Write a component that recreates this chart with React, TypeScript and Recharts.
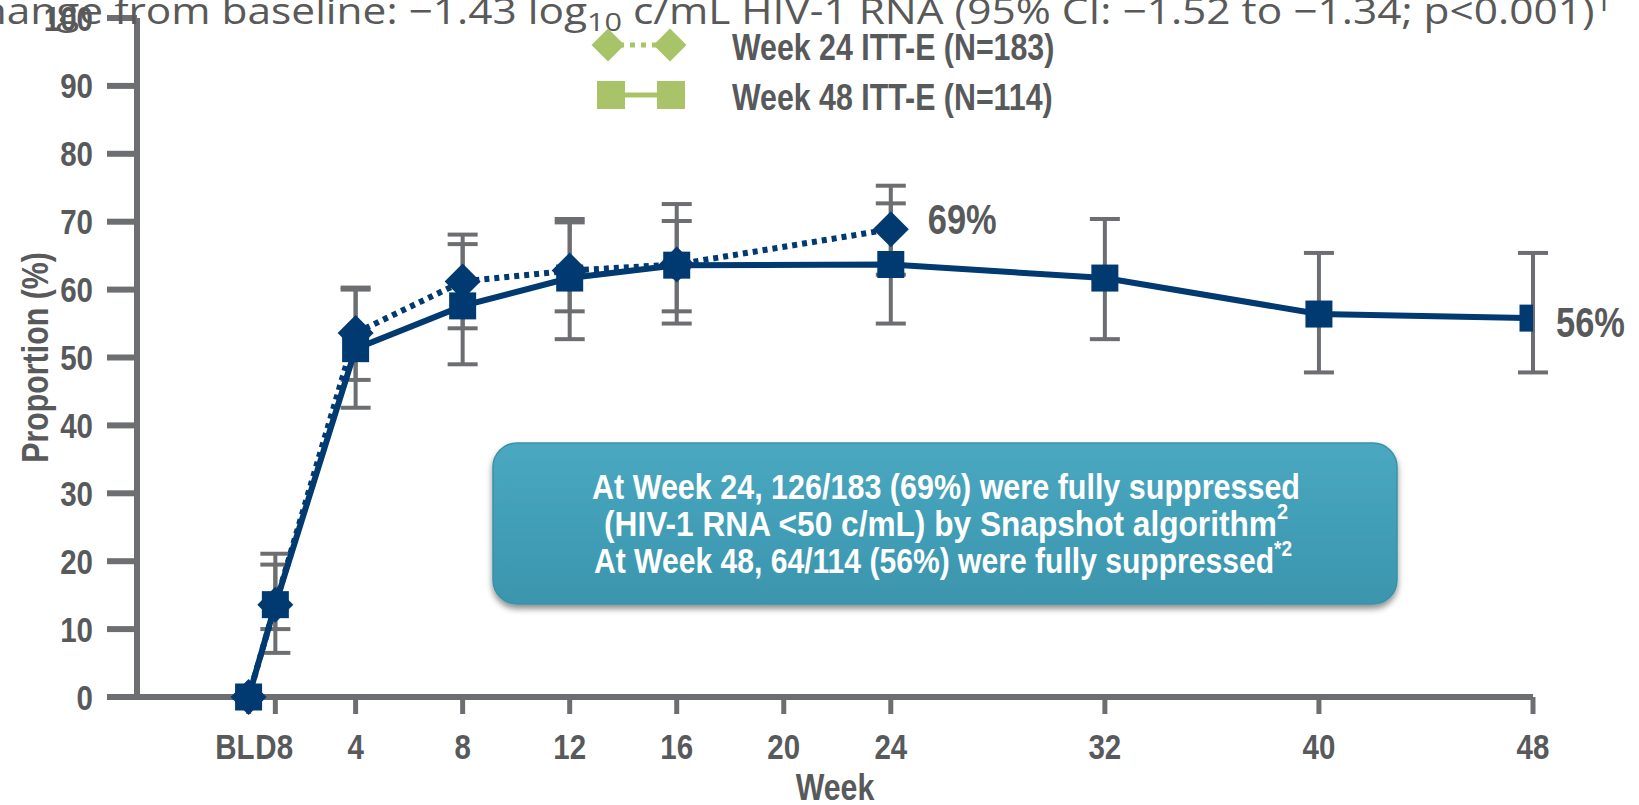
import React from 'react';
import { LineChart, Line, XAxis, YAxis, ErrorBar, LabelList } from 'recharts';

const BOLD_FONT = "'Liberation Sans', Arial, sans-serif";
const SX = 0.82; // Arial -> Arial Narrow width ratio
const NAVY = '#003A70';
const AXIS_GREY = '#6D6E71';
const TEXT_GREY = '#58595B';
const GREEN = '#A9C468';

// Week 24 ITT-E (N=183)
const week24Weeks = [0, 1, 4, 8, 12, 16, 24];
const week24Values = [0, 13.6, 53.6, 61.2, 62.8, 63.7, 68.9];
const week24Lower = [0, 10.0, 46.7, 54.3, 56.8, 56.8, 62.2];
const week24Upper = [0, 19.5, 60.3, 68.1, 69.9, 70.1, 75.3];

// Week 48 ITT-E (N=114)
const week48Weeks = [0, 1, 4, 8, 12, 16, 24, 32, 40, 48];
const week48Values = [0, 13.6, 51.3, 57.6, 61.7, 63.6, 63.7, 61.7, 56.4, 55.8];
const week48Lower = [0, 6.5, 42.6, 49.0, 52.7, 55.0, 55.0, 52.7, 47.8, 47.8];
const week48Upper = [0, 21.1, 60.0, 66.7, 70.4, 72.6, 72.7, 70.4, 65.4, 65.4];

const xTicks = [0, 1, 4, 8, 12, 16, 20, 24, 32, 40, 48];
const xTickLabels = ['BL', 'D8', '4', '8', '12', '16', '20', '24', '32', '40', '48'];
const yTicks = [0, 10, 20, 30, 40, 50, 60, 70, 80, 90, 100];

const seriesNames = ['Week 24 ITT-E (N=183)', 'Week 48 ITT-E (N=114)'];
const boxLines = [
  'At Week 24, 126/183 (69%) were fully suppressed',
  '(HIV-1 RNA <50 c/mL) by Snapshot algorithm',
  'At Week 48, 64/114 (56%) were fully suppressed',
];

const build = (weeks: number[], vals: number[], lo: number[], hi: number[]) =>
  weeks.map((w, i) => ({ week: w, value: vals[i], err: [vals[i] - lo[i], hi[i] - vals[i]] }));

const week24Data = build(week24Weeks, week24Values, week24Lower, week24Upper);
const week48Data = build(week48Weeks, week48Values, week48Lower, week48Upper);

const NText = (p: { x: number; y: number; anchor?: any; size: number; fill: string; rotate?: number; children: any }) => (
  <text
    transform={`translate(${p.x},${p.y})${p.rotate ? ` rotate(${p.rotate})` : ''} scale(${SX},1)`}
    x={0} y={0} textAnchor={p.anchor || 'start'} dominantBaseline="central"
    fontFamily={BOLD_FONT} fontWeight={700} fontSize={p.size} fill={p.fill}>
    {p.children}
  </text>
);

const diamondDot = (props: any) => {
  const { cx, cy, index } = props;
  if (cx == null || cy == null) return <g key={`dd${index}`} />;
  const r = 18;
  return (
    <path key={`dd${index}`} d={`M${cx},${cy - r}L${cx + r},${cy}L${cx},${cy + r}L${cx - r},${cy}Z`} fill={NAVY} />
  );
};

const squareDot = (props: any) => {
  const { cx, cy, index } = props;
  if (cx == null || cy == null) return <g key={`sd${index}`} />;
  const h = 13.5;
  return <rect key={`sd${index}`} x={cx - h} y={cy - h} width={2 * h} height={2 * h} fill={NAVY} />;
};

const renderXTick = (props: any) => {
  const { x, y, payload } = props;
  const v = payload.value;
  const idx = xTicks.indexOf(v);
  const label = idx >= 0 ? xTickLabels[idx] : String(v);
  let anchor: any = 'middle';
  let dx = 0;
  if (v === 0) { anchor = 'end'; dx = 6; }
  if (v === 1) { anchor = 'start'; dx = -20; }
  return <NText x={x + dx} y={y + 32} anchor={anchor} size={36} fill={TEXT_GREY}>{label}</NText>;
};

const renderYTick = (props: any) => {
  const { x, y, payload } = props;
  return <NText x={x} y={y} anchor="end" size={36} fill={TEXT_GREY}>{payload.value}</NText>;
};

const renderYLabel = (props: any) => {
  const vb = props.viewBox || { x: 0, y: 18, width: 137, height: 679 };
  return (
    <NText x={vb.x + 35} y={vb.y + vb.height / 2} anchor="middle" rotate={-90} size={37} fill={TEXT_GREY}>Proportion (%)</NText>
  );
};

const renderXLabel = (props: any) => {
  const vb = props.viewBox || { x: 137, y: 697, width: 1396, height: 60 };
  return <NText x={vb.x + vb.width / 2} y={vb.y + 90} anchor="middle" size={37} fill={TEXT_GREY}>Week</NText>;
};

const makeEndLabel = (lastIndex: number, dx: number, dy: number) => (props: any) => {
  const { x, y, value, index } = props;
  if (index !== lastIndex) return null;
  return <NText x={x + dx} y={y + dy} size={42} fill={TEXT_GREY}>{`${Math.round(value)}%`}</NText>;
};

export default function App() {
  return (
    <div style={{ position: 'relative', width: 1639, height: 805, background: '#fff', overflow: 'hidden' }}>
      <style>{'body{margin:0;}'}</style>
      <LineChart width={1639} height={805} margin={{ top: 18, right: 106, bottom: 48, left: 0 }}>
        <XAxis type="number" dataKey="week" domain={[-4.17, 48]} allowDataOverflow ticks={xTicks} interval={0}
          height={60} tickSize={17} tickMargin={0}
          axisLine={{ stroke: AXIS_GREY, strokeWidth: 6 }} tickLine={{ stroke: AXIS_GREY, strokeWidth: 5 }}
          tick={renderXTick} label={renderXLabel} />
        <YAxis type="number" domain={[0, 100]} ticks={yTicks} interval={0} width={137} tickSize={30} tickMargin={14}
          axisLine={{ stroke: AXIS_GREY, strokeWidth: 6 }} tickLine={{ stroke: AXIS_GREY, strokeWidth: 6 }}
          tick={renderYTick} label={renderYLabel} />
        <Line data={week48Data} dataKey="value" stroke="none" dot={false} activeDot={false} isAnimationActive={false} legendType="none">
          <ErrorBar dataKey="err" direction="y" width={15} stroke={AXIS_GREY} strokeWidth={4} isAnimationActive={false} />
        </Line>
        <Line data={week24Data} dataKey="value" stroke="none" dot={false} activeDot={false} isAnimationActive={false} legendType="none">
          <ErrorBar dataKey="err" direction="y" width={15} stroke={AXIS_GREY} strokeWidth={4} isAnimationActive={false} />
        </Line>
        <Line data={week24Data} dataKey="value" name={seriesNames[0]} stroke={NAVY} strokeWidth={6} strokeDasharray="5 5"
          dot={diamondDot} activeDot={false} isAnimationActive={false}>
          <LabelList dataKey="value" content={makeEndLabel(week24Data.length - 1, 37, -10)} />
        </Line>
        <Line data={week48Data} dataKey="value" name={seriesNames[1]} stroke={NAVY} strokeWidth={6}
          dot={squareDot} activeDot={false} isAnimationActive={false}>
          <LabelList dataKey="value" content={makeEndLabel(week48Data.length - 1, 23, 4)} />
        </Line>
      </LineChart>
      <svg width={1639} height={805} style={{ position: 'absolute', left: 0, top: 0, pointerEvents: 'none' }}>
        <defs>
          <linearGradient id="boxGrad" x1="0" y1="0" x2="0" y2="1">
            <stop offset="0" stopColor="#49A8C0" />
            <stop offset="1" stopColor="#3A95AD" />
          </linearGradient>
          <filter id="boxShadow" x="-5%" y="-10%" width="110%" height="130%">
            <feDropShadow dx="0" dy="4" stdDeviation="3" floodColor="#000" floodOpacity="0.45" />
          </filter>
        </defs>
        {/* title */}
        <text x={-46} y={24} fontFamily="'Open Sans', 'Noto Sans', sans-serif" fontSize={36} fill="#595959"
          textLength={1658} lengthAdjust="spacingAndGlyphs">
          Change from baseline: −1.43 log<tspan dy={7} fontSize={26}>10</tspan>
          <tspan dy={-7}> c/mL HIV-1 RNA (95% CI: −1.52 to −1.34; p&lt;0.001)</tspan>
          <tspan dy={-13} fontSize={26}>1</tspan>
        </text>
        {/* legend */}
        <line x1={608} y1={45} x2={670} y2={45} stroke={GREEN} strokeWidth={5} strokeDasharray="5 6" />
        <path d="M608,28.5L624.5,45L608,61.5L591.5,45Z" fill={GREEN} />
        <path d="M670,28.5L686.5,45L670,61.5L653.5,45Z" fill={GREEN} />
        <NText x={732} y={47} size={37} fill={TEXT_GREY}>{seriesNames[0]}</NText>
        <line x1={611} y1={95} x2={671} y2={95} stroke={GREEN} strokeWidth={5} />
        <rect x={597} y={81} width={28} height={28} fill={GREEN} />
        <rect x={657} y={81} width={28} height={28} fill={GREEN} />
        <NText x={732} y={97} size={37} fill={TEXT_GREY}>{seriesNames[1]}</NText>
        {/* annotation box */}
        <rect x={493} y={443} width={904} height={161} rx={24} ry={24} fill="url(#boxGrad)" stroke="#3A91A8" strokeWidth={1.5} filter="url(#boxShadow)" />
        <text x={946} y={486} textAnchor="middle" dominantBaseline="central" fontFamily={BOLD_FONT} fontWeight={700} fontSize={35} fill="#fff"
          textLength={708} lengthAdjust="spacingAndGlyphs">{boxLines[0]}</text>
        <text x={946} y={523} textAnchor="middle" dominantBaseline="central" fontFamily={BOLD_FONT} fontWeight={700} fontSize={35} fill="#fff"
          textLength={684} lengthAdjust="spacingAndGlyphs">{boxLines[1]}<tspan dy={-12} fontSize={22}>2</tspan></text>
        <text x={943} y={560} textAnchor="middle" dominantBaseline="central" fontFamily={BOLD_FONT} fontWeight={700} fontSize={35} fill="#fff"
          textLength={698} lengthAdjust="spacingAndGlyphs">{boxLines[2]}<tspan dy={-12} fontSize={22}>*2</tspan></text>
      </svg>
    </div>
  );
}
